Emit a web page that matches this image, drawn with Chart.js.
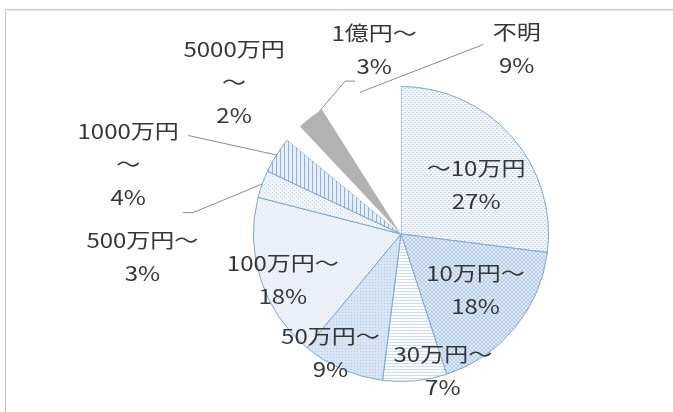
<!DOCTYPE html>
<html>
<head>
<meta charset="utf-8">
<script src="https://cdn.jsdelivr.net/npm/chart.js@4/dist/chart.umd.min.js"></script>
<style>
  html, body { margin: 0; background: #fff; }
  #wrap { width: 673px; height: 412px; position: relative; }
</style>
</head>
<body>
<div id="wrap"><canvas id="c" width="673" height="412"></canvas></div>
<script>
// 金額帯ごとの割合 (%)
const categories = ['～10万円', '10万円～', '30万円～', '50万円～', '100万円～',
                    '500万円～', '1000万円\n～', '5000万円\n～', '1億円～', '不明'];
const shares = [27, 18, 7, 9, 18, 3, 4, 2, 3, 9];

// ラベル位置: [時計回りの角度(度, 12時=0), 半径に対する距離]
const labelAt = [
  [56.6, 0.61], [126.7, 0.63], [163.0, 0.97], [210.6, 0.94], [248.7, 0.86],
  [265.0, 1.76], [284.4, 1.91], [312.3, 1.53], [351.7, 1.26], [32.0, 1.48],
];
// 引き出し線: [スライス番号, 弧上の位置(0-1), ラベル中心からのずれ]
const leaders = [
  [5, 0.5, [[50.5, -44], [40.5, -44]]],
  [6, 0.5, [[60, -28.5]]],
  [8, 0.9, [[-29, 31], [-19, 31]]],
  [9, 0.5, [[-33, -4.5]]],
];

const canvas = document.getElementById('c');
const mainCtx = canvas.getContext('2d');

function pat(bg, fg, w, h, draw) {
  const c = document.createElement('canvas');
  c.width = w; c.height = h;
  const g = c.getContext('2d');
  g.fillStyle = bg; g.fillRect(0, 0, w, h);
  g.fillStyle = fg; draw(g);
  return mainCtx.createPattern(c, 'repeat');
}

const fills = [
  pat('#F3F7FC', '#C3D5EB', 4, 4, g => { g.fillRect(0, 0, 2, 1); g.fillRect(2, 2, 2, 1); }),
  pat('#E0EBF7', '#B6CDE9', 4, 4, g => { for (let i = 0; i < 4; i++) { g.fillRect(i, i, 1, 1); g.fillRect(3 - i, i, 1, 1); } }),
  pat('#FAFCFE', '#CFDEF0', 4, 3, g => g.fillRect(0, 0, 4, 1)),
  pat('#D8E5F4', '#B2CBE7', 3, 3, g => g.fillRect(0, 0, 1, 1)),
  pat('#EEF3FA', '#D2E0F1', 4, 4, g => { g.fillRect(0, 0, 1, 1); g.fillRect(2, 2, 1, 1); }),
  pat('#EFF5FB', '#C5D8EE', 4, 4, g => { g.fillRect(0, 0, 1, 1); g.fillRect(2, 2, 1, 1); }),
  pat('#E6EEF8', '#8FB1DA', 4, 1, g => g.fillRect(0, 0, 1, 1)),
  '#FFFFFF',
  '#B2B2B2',
  '#FFFFFF',
];
const edge = ['#7FA6D5', '#7FA6D5', '#7FA6D5', '#7FA6D5', '#7FA6D5', '#7FA6D5', '#7FA6D5', '#FFFFFF', '#FFFFFF', '#FFFFFF'];
const edgeW = [1, 1, 1, 1, 1, 1, 1, 0, 0, 0];

// 外枠 (上と左の灰色の線)
const framePlugin = {
  id: 'frame',
  beforeDraw(chart) {
    const ctx = chart.ctx;
    ctx.save();
    ctx.fillStyle = '#fff';
    ctx.fillRect(0, 0, chart.width, chart.height);
    ctx.strokeStyle = '#C4C4C4';
    ctx.lineWidth = 1;
    ctx.beginPath();
    ctx.moveTo(5.5, chart.height); ctx.lineTo(5.5, 9.5); ctx.lineTo(chart.width, 9.5);
    ctx.stroke();
    ctx.strokeStyle = '#EDEDED';
    ctx.beginPath();
    ctx.moveTo(6.5, 10.5); ctx.lineTo(chart.width, 10.5);
    ctx.stroke();
    ctx.restore();
  }
};

// データラベル + 引き出し線
const labelPlugin = {
  id: 'labels',
  afterDatasetsDraw(chart) {
    const ctx = chart.ctx;
    const arcs = chart.getDatasetMeta(0).data;
    const cx = arcs[0].x, cy = arcs[0].y, r = arcs[0].outerRadius;
    const at = (deg, k) => {
      const t = (deg - 90) * Math.PI / 180;
      return [cx + Math.cos(t) * r * k, cy + Math.sin(t) * r * k];
    };
    ctx.save();
    ctx.strokeStyle = '#8C8C8C';
    ctx.lineWidth = 1;
    leaders.forEach(([i, t, pts]) => {
      const a = arcs[i];
      const ang = a.startAngle + (a.endAngle - a.startAngle) * t;
      const [lx, ly] = at(labelAt[i][0], labelAt[i][1]);
      ctx.beginPath();
      ctx.moveTo(cx + Math.cos(ang) * r, cy + Math.sin(ang) * r);
      pts.forEach(([dx, dy]) => ctx.lineTo(lx + dx, ly + dy));
      ctx.stroke();
    });

    ctx.fillStyle = '#363636';
    ctx.font = '20px "Noto Sans CJK JP", "Noto Sans", sans-serif';
    ctx.textAlign = 'center';
    ctx.textBaseline = 'middle';
    const lh = 33;
    categories.forEach((name, i) => {
      const lines = name.split('\n').concat(shares[i] + '%');
      const [x, y] = at(labelAt[i][0], labelAt[i][1]);
      lines.forEach((s, j) => {
        ctx.save();
        ctx.translate(x, y + (j - (lines.length - 1) / 2) * lh);
        ctx.scale(1.2, 1);
        ctx.fillText(s, 0, 0);
        ctx.restore();
      });
    });
    ctx.restore();
  }
};

new Chart(canvas, {
  type: 'pie',
  plugins: [framePlugin, labelPlugin],
  data: {
    labels: categories,
    datasets: [{
      data: shares,
      backgroundColor: fills,
      borderColor: edge,
      borderWidth: edgeW,
    }]
  },
  options: {
    responsive: false,
    devicePixelRatio: 1,
    animation: false,
    events: [],
    layout: { padding: { left: 253, right: 124, top: 86, bottom: 30 } },
    plugins: {
      legend: { display: false },
      tooltip: { enabled: false }
    }
  }
});
</script>
</body>
</html>
